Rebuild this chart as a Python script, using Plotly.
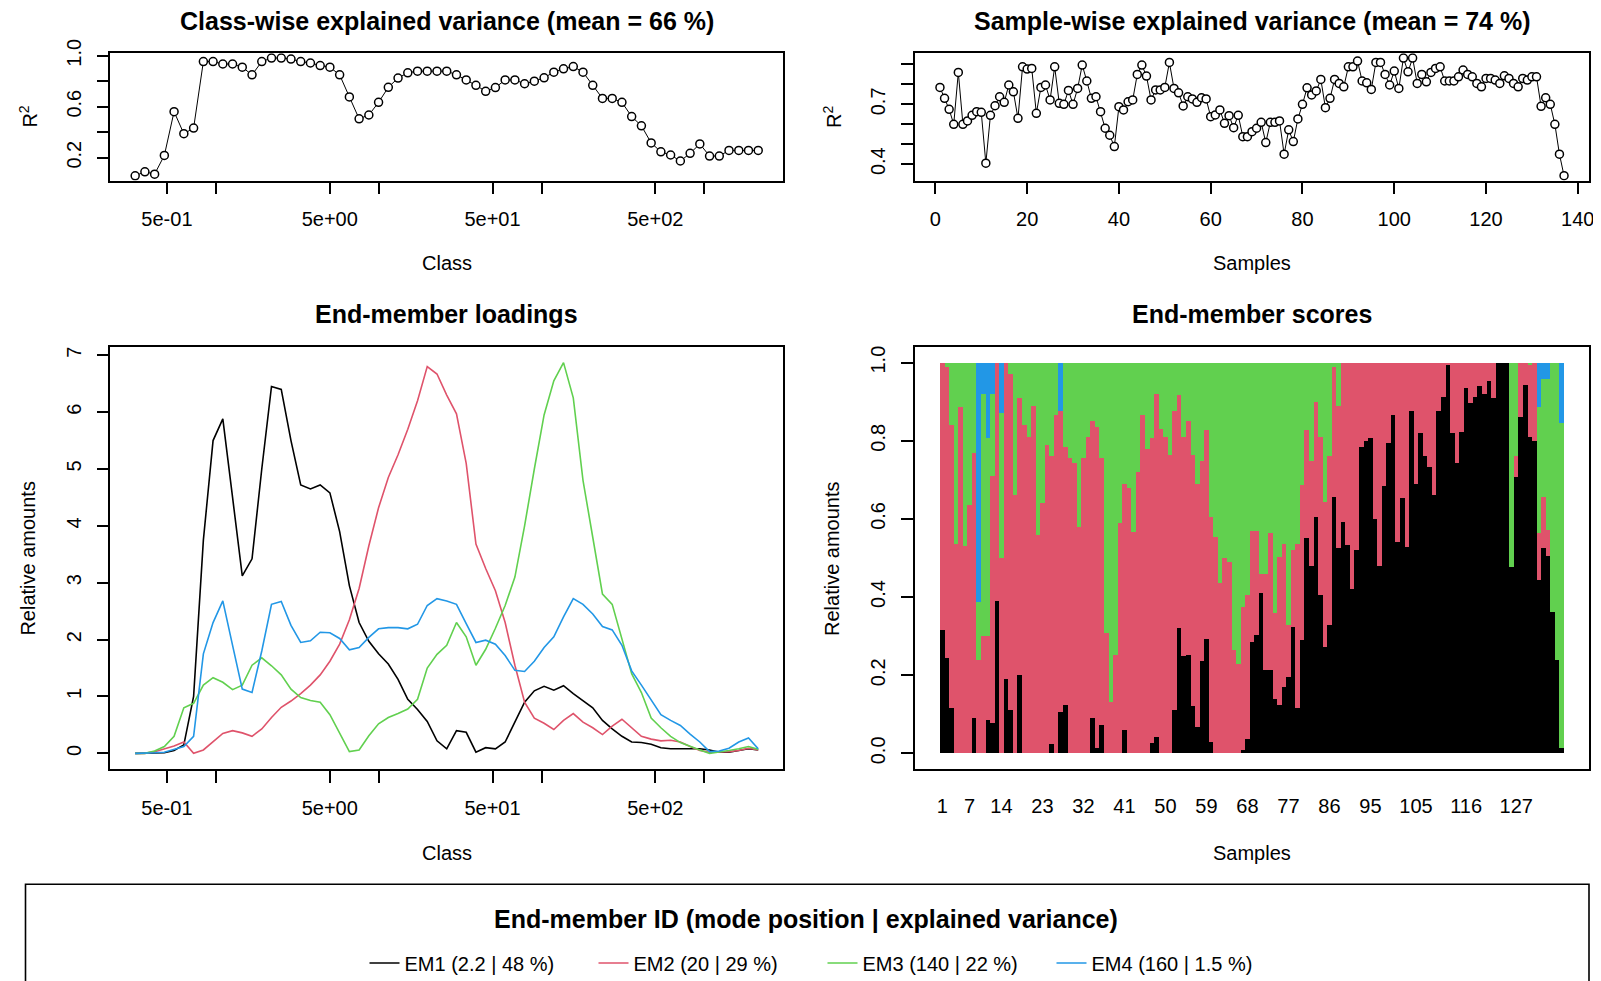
import plotly.graph_objects as go

# ---------------- data ----------------
classes = [0.319, 0.366, 0.420, 0.482, 0.553, 0.635, 0.729, 0.837, 0.960, 1.102,
           1.265, 1.451, 1.666, 1.912, 2.194, 2.518, 2.890, 3.317, 3.806, 4.368,
           5.012, 5.752, 6.601, 7.576, 8.695, 9.977, 11.45, 13.14, 15.08, 17.31,
           19.86, 22.80, 26.16, 30.03, 34.46, 39.55, 45.39, 52.09, 59.78, 68.61,
           78.70, 90.33, 103.7, 119.0, 136.5, 156.7, 179.8, 206.4, 236.8, 271.8,
           311.9, 357.9, 410.8, 471.5, 541.1, 620.9, 712.6, 817.8, 938.5, 1077,
           1236, 1418, 1628, 1868, 2144]

r2_class = [0.058, 0.089, 0.071, 0.218, 0.561, 0.388, 0.432, 0.954, 0.954, 0.935,
            0.935, 0.91, 0.85, 0.954, 0.982, 0.982, 0.974, 0.954, 0.943, 0.923,
            0.91, 0.85, 0.677, 0.505, 0.535, 0.634, 0.752, 0.825, 0.866, 0.879,
            0.879, 0.879, 0.879, 0.85, 0.81, 0.768, 0.721, 0.75, 0.81, 0.81,
            0.78, 0.80, 0.827, 0.871, 0.897, 0.915, 0.871, 0.768, 0.665, 0.665,
            0.634, 0.523, 0.45, 0.316, 0.246, 0.221, 0.174, 0.234, 0.308, 0.213,
            0.213, 0.257, 0.257, 0.257, 0.257]

samples = list(range(1, 138))

r2_sample = [0.785, 0.73, 0.675, 0.60, 0.86, 0.60, 0.617, 0.645, 0.663, 0.66,
             0.405, 0.645, 0.693, 0.738, 0.71, 0.797, 0.763, 0.63, 0.888, 0.877,
             0.88, 0.655, 0.785, 0.797, 0.722, 0.888, 0.705, 0.70, 0.77, 0.70,
             0.78, 0.897, 0.817, 0.73, 0.738, 0.663, 0.58, 0.545, 0.488, 0.688,
             0.672, 0.713, 0.722, 0.85, 0.897, 0.842, 0.722, 0.772, 0.772, 0.785,
             0.91, 0.78, 0.758, 0.692, 0.738, 0.727, 0.71, 0.733, 0.727, 0.638,
             0.647, 0.672, 0.605, 0.643, 0.583, 0.645, 0.538, 0.538, 0.563, 0.58,
             0.61, 0.508, 0.61, 0.61, 0.617, 0.45, 0.572, 0.513, 0.627, 0.70,
             0.783, 0.747, 0.767, 0.825, 0.683, 0.73, 0.825, 0.805, 0.788, 0.888,
             0.888, 0.917, 0.817, 0.808, 0.775, 0.91, 0.91, 0.85, 0.797, 0.867,
             0.78, 0.932, 0.863, 0.932, 0.805, 0.85, 0.813, 0.86, 0.88, 0.888,
             0.817, 0.817, 0.817, 0.838, 0.872, 0.85, 0.838, 0.805, 0.788, 0.83,
             0.83, 0.822, 0.805, 0.843, 0.83, 0.805, 0.788, 0.83, 0.822, 0.838,
             0.838, 0.69, 0.733, 0.70, 0.60, 0.45, 0.342]

em1_load = [0, 0, 0, 0.01, 0.05, 0.15, 1.0, 3.75, 5.5, 5.88,
            4.5, 3.12, 3.42, 5.0, 6.45, 6.40, 5.5, 4.72, 4.65, 4.72,
            4.58, 3.9, 2.95, 2.3, 1.97, 1.75, 1.57, 1.3, 0.95, 0.77,
            0.56, 0.22, 0.08, 0.40, 0.37, 0.02, 0.1, 0.08, 0.2, 0.55,
            0.9, 1.1, 1.18, 1.11, 1.19, 1.05, 0.92, 0.8, 0.58, 0.43,
            0.3, 0.2, 0.19, 0.16, 0.1, 0.08, 0.08, 0.08, 0.08, 0.06,
            0.02, 0.02, 0.05, 0.08, 0.06]
em2_load = [0, 0, 0.03, 0.08, 0.13, 0.2, 0.0, 0.06, 0.2, 0.35,
            0.4, 0.36, 0.3, 0.43, 0.63, 0.81, 0.92, 1.05, 1.2, 1.38,
            1.62, 1.92, 2.35, 2.9, 3.65, 4.32, 4.85, 5.25, 5.7, 6.2,
            6.8, 6.67, 6.3, 5.97, 5.1, 3.68, 3.25, 2.86, 2.3, 1.55,
            0.9, 0.62, 0.53, 0.42, 0.58, 0.7, 0.55, 0.45, 0.33, 0.48,
            0.6, 0.45, 0.3, 0.25, 0.22, 0.23, 0.2, 0.12, 0.05, 0.02,
            0.02, 0.03, 0.05, 0.09, 0.06]
em3_load = [0, 0, 0.04, 0.12, 0.3, 0.8, 0.88, 1.2, 1.33, 1.25,
            1.12, 1.2, 1.55, 1.68, 1.54, 1.38, 1.13, 0.98, 0.93, 0.9,
            0.68, 0.35, 0.03, 0.06, 0.31, 0.52, 0.63, 0.7, 0.78, 0.95,
            1.5, 1.74, 1.9, 2.3, 2.05, 1.55, 1.83, 2.2, 2.6, 3.1,
            4.0, 5.0, 5.95, 6.55, 6.87, 6.25, 4.8, 3.8, 2.8, 2.62,
            2.0, 1.4, 1.07, 0.62, 0.45, 0.3, 0.19, 0.12, 0.06, 0.0,
            0.02, 0.05, 0.08, 0.12, 0.07]
em4_load = [0, 0, 0.01, 0.02, 0.07, 0.12, 0.3, 1.75, 2.3, 2.68,
            1.9, 1.13, 1.07, 1.8, 2.62, 2.67, 2.25, 1.95, 1.98, 2.13,
            2.12, 2.02, 1.82, 1.86, 2.04, 2.19, 2.21, 2.21, 2.19, 2.27,
            2.6, 2.72, 2.68, 2.62, 2.28, 1.95, 1.99, 1.92, 1.72, 1.46,
            1.44, 1.62, 1.86, 2.05, 2.4, 2.72, 2.62, 2.45, 2.23, 2.17,
            1.9, 1.45, 1.2, 0.95, 0.68, 0.58, 0.49, 0.34, 0.2, 0.03,
            0.04, 0.09, 0.2, 0.27, 0.08]

score_em1 = [0.316, 0.243, 0.115, 0, 0, 0, 0, 0.09, 0, 0,
             0.085, 0.077, 0.39, 0, 0.19, 0.11, 0, 0.2, 0, 0,
             0, 0, 0, 0, 0.024, 0, 0.107, 0.124, 0, 0,
             0, 0, 0, 0.09, 0.013, 0.073, 0, 0, 0, 0,
             0.061, 0, 0, 0, 0, 0, 0.027, 0.043, 0, 0,
             0, 0.11, 0.32, 0.25, 0.253, 0.12, 0.067, 0.237, 0.292, 0.028,
             0, 0, 0, 0, 0, 0, 0.009, 0.036, 0.286, 0.303,
             0.41, 0.213, 0.213, 0.14, 0.124, 0.17, 0.196, 0.324, 0.115, 0.29,
             0.55, 0.48, 0.606, 0.405, 0.273, 0.328, 0.657, 0.525, 0.593, 0.533,
             0.42, 0.52, 0.783, 0.8, 0.806, 0.6, 0.48, 0.683, 0.794, 0.866,
             0.542, 0.653, 0.529, 0.876, 0.69, 0.82, 0.76, 0.734, 0.66, 0.875,
             0.913, 0.994, 0.82, 0.742, 0.823, 0.934, 0.896, 0.913, 0.94, 0.92,
             0.954, 0.909, 1.0, 1.0, 1.0, 0.478, 0.708, 0.862, 0.943, 0.81,
             0.8, 0.444, 0.525, 0.505, 0.363, 0.239, 0.013]
score_em2 = [0.684, 0.747, 0.725, 0.537, 0.887, 0.53, 0.635, 0.68, 0.239, 0.30,
             0.215, 0.633, 0.61, 0.50, 0.81, 0.86, 0.66, 0.71, 0.84, 0.81,
             0.89, 0.56, 0.64, 0.79, 0.736, 0.866, 0.768, 0.661, 0.755, 0.742,
             0.58, 0.755, 0.81, 0.76, 0.821, 0.682, 0.307, 0.132, 0.252, 0.589,
             0.629, 0.678, 0.567, 0.72, 0.866, 0.78, 0.779, 0.877, 0.83, 0.81,
             0.764, 0.765, 0.597, 0.56, 0.597, 0.644, 0.623, 0.51, 0.536, 0.578,
             0.555, 0.435, 0.5, 0.49, 0.265, 0.23, 0.366, 0.369, 0.284, 0.267,
             0.05, 0.247, 0.35, 0.218, 0.379, 0.367, 0.132, 0.196, 0.42, 0.397,
             0.278, 0.267, 0.294, 0.405, 0.371, 0.432, 0.333, 0.365, 0.407, 0.467,
             0.58, 0.48, 0.217, 0.2, 0.194, 0.4, 0.52, 0.317, 0.206, 0.134,
             0.458, 0.347, 0.471, 0.124, 0.31, 0.18, 0.24, 0.266, 0.34, 0.125,
             0.087, 0.006, 0.18, 0.258, 0.177, 0.066, 0.104, 0.087, 0.06, 0.08,
             0.046, 0.091, 0, 0, 0, 0, 0.052, 0.138, 0.057, 0.184,
             0.2, 0.119, 0.132, 0.067, 0, 0, 0]
score_em3 = [0, 0.01, 0.16, 0.463, 0.113, 0.47, 0.365, 0.23, 0.149, 0.62,
             0.506, 0.21, 0, 0.37, 0, 0.03, 0.34, 0.09, 0.16, 0.19,
             0.11, 0.44, 0.36, 0.21, 0.24, 0.134, 0, 0.215, 0.245, 0.258,
             0.42, 0.245, 0.19, 0.15, 0.166, 0.245, 0.693, 0.868, 0.748, 0.411,
             0.31, 0.322, 0.433, 0.28, 0.134, 0.22, 0.194, 0.08, 0.17, 0.19,
             0.236, 0.125, 0.083, 0.19, 0.15, 0.236, 0.31, 0.253, 0.172, 0.394,
             0.445, 0.565, 0.5, 0.51, 0.735, 0.77, 0.625, 0.595, 0.43, 0.43,
             0.54, 0.54, 0.437, 0.642, 0.497, 0.463, 0.672, 0.48, 0.465, 0.313,
             0.172, 0.253, 0.1, 0.19, 0.356, 0.24, 0.01, 0.11, 0, 0,
             0, 0, 0, 0, 0, 0, 0, 0, 0, 0,
             0, 0, 0, 0, 0, 0, 0, 0, 0, 0,
             0, 0, 0, 0, 0, 0, 0, 0, 0, 0,
             0, 0, 0, 0, 0, 0.522, 0.24, 0, 0, 0.006,
             0, 0.324, 0.3, 0.385, 0.637, 0.761, 0.832]
score_em4 = [0, 0, 0, 0, 0, 0, 0, 0, 0.612, 0.08,
             0.194, 0.08, 0, 0.13, 0, 0, 0, 0, 0, 0,
             0, 0, 0, 0, 0, 0, 0.125, 0, 0, 0,
             0, 0, 0, 0, 0, 0, 0, 0, 0, 0,
             0, 0, 0, 0, 0, 0, 0, 0, 0, 0,
             0, 0, 0, 0, 0, 0, 0, 0, 0, 0,
             0, 0, 0, 0, 0, 0, 0, 0, 0, 0,
             0, 0, 0, 0, 0, 0, 0, 0, 0, 0,
             0, 0, 0, 0, 0, 0, 0, 0, 0, 0,
             0, 0, 0, 0, 0, 0, 0, 0, 0, 0,
             0, 0, 0, 0, 0, 0, 0, 0, 0, 0,
             0, 0, 0, 0, 0, 0, 0, 0, 0, 0,
             0, 0, 0, 0, 0, 0, 0, 0, 0, 0,
             0, 0.113, 0.043, 0.043, 0, 0, 0.155]

em_names = ["EM1 (2.2 | 48 %)", "EM2 (20 | 29 %)", "EM3 (140 | 22 %)", "EM4 (160 | 1.5 %)"]
em_colors = ["#000000", "#DF536B", "#61D04F", "#2297E6"]

class_ticks = [0.5, 5, 50, 500]
class_ticktext = ["5e-01", "5e+00", "5e+01", "5e+02"]
class_minor = [1, 10, 100, 1000]
score_ticks = [1, 7, 14, 23, 32, 41, 50, 59, 68, 77, 86, 95, 105, 116, 127]

# ---------------- figure ----------------
OFF = 8                      # page body margin of the html page
FW, FH = 1601 - OFF, 981 - OFF
FONT = "Liberation Sans, Arial, sans-serif"


def fx(px):
    return (px - OFF) / FW


def fy(py):
    return 1 - (py - OFF) / FH


fig = go.Figure()

fig.add_trace(go.Scatter(x=classes, y=r2_class, mode="lines+markers",
                         line=dict(color="black", width=1.0),
                         marker=dict(symbol="circle", size=8, color="white",
                                     line=dict(color="black", width=1.5)),
                         showlegend=False, xaxis="x", yaxis="y"))
fig.add_trace(go.Scatter(x=samples, y=r2_sample, mode="lines+markers",
                         line=dict(color="black", width=1.0),
                         marker=dict(symbol="circle", size=8, color="white",
                                     line=dict(color="black", width=1.5)),
                         showlegend=False, xaxis="x2", yaxis="y2"))
for ys, nm, col in zip([em1_load, em2_load, em3_load, em4_load], em_names, em_colors):
    fig.add_trace(go.Scatter(x=classes, y=ys, mode="lines", name=nm,
                             line=dict(color=col, width=1.6),
                             showlegend=True, xaxis="x3", yaxis="y3"))
for ys, nm, col in zip([score_em1, score_em2, score_em3, score_em4], em_names, em_colors):
    fig.add_trace(go.Bar(x=samples, y=ys, name=nm, marker=dict(color=col, line=dict(width=0)),
                         showlegend=False, xaxis="x4", yaxis="y4"))

axis_common = dict(showline=True, linecolor="black", linewidth=1.6, mirror=True,
                   ticks="outside", ticklen=12, tickwidth=1.5, tickcolor="black",
                   showgrid=False, zeroline=False, automargin=False,
                   tickfont=dict(size=20, color="black", family=FONT),
                   ticklabelstandoff=8)


def minor_ticks(vals):
    return dict(tickmode="array", tickvals=vals, ticks="outside", ticklen=12,
                tickwidth=1.5, tickcolor="black", showgrid=False)


xL = [fx(110.3), fx(783.1)]
xR = [fx(915), fx(1589)]
yT = [fy(180.5), fy(53.3)]
yB = [fy(769), fy(347)]

fig.update_layout(
    width=FW, height=FH,
    margin=dict(l=0, r=0, t=0, b=0, pad=0, autoexpand=False),
    paper_bgcolor="white", plot_bgcolor="white",
    font=dict(family=FONT, size=20, color="black"),
    barmode="stack", bargap=0,
    xaxis=dict(axis_common, domain=xL, anchor="y", type="log",
               range=[-0.649, 3.484], tickvals=class_ticks, ticktext=class_ticktext,
               minor=minor_ticks(class_minor)),
    yaxis=dict(axis_common, domain=yT, anchor="x", range=[0.021, 1.019],
               tickvals=[0.2, 0.6, 1.0], ticktext=["0.2", "0.6", "1.0"], tickangle=-90,
               minor=minor_ticks([0.4, 0.8])),
    xaxis2=dict(axis_common, domain=xR, anchor="y2", range=[-4.44, 142.44],
                tickvals=[0, 20, 40, 60, 80, 100, 120, 140]),
    yaxis2=dict(axis_common, domain=yT, anchor="x2", range=[0.318, 0.956],
                tickvals=[0.4, 0.7], ticktext=["0.4", "0.7"], tickangle=-90,
                minor=minor_ticks([0.5, 0.6, 0.8, 0.9])),
    xaxis3=dict(axis_common, domain=xL, anchor="y3", type="log",
                range=[-0.649, 3.484], tickvals=class_ticks, ticktext=class_ticktext,
                minor=minor_ticks(class_minor)),
    yaxis3=dict(axis_common, domain=yB, anchor="x3", range=[-0.275, 7.145],
                tickvals=[0, 1, 2, 3, 4, 5, 6, 7], tickangle=-90),
    xaxis4=dict(axis_common, domain=xR, anchor="y4", range=[-4.98, 142.98],
                tickvals=score_ticks, ticks="", ticklabelstandoff=18),
    yaxis4=dict(axis_common, domain=yB, anchor="x4", range=[-0.04, 1.04],
                tickvals=[0, 0.2, 0.4, 0.6, 0.8, 1.0],
                ticktext=["0.0", "0.2", "0.4", "0.6", "0.8", "1.0"], tickangle=-90),
    legend=dict(orientation="h", x=fx(364.5), xanchor="left", y=fy(963), yanchor="middle",
                font=dict(size=20, family=FONT, color="black"),
                bgcolor="rgba(0,0,0,0)", entrywidth=184, entrywidthmode="pixels",
                traceorder="normal"),
)

title_font = dict(family=FONT, size=25, color="black")
label_font = dict(family=FONT, size=20, color="black")
annots = [
    ("<b>Class-wise explained variance (mean = 66 %)</b>", (110.3 + 783.1) / 2, 21.5, title_font, 0),
    ("<b>Sample-wise explained variance (mean = 74 %)</b>", (915 + 1589) / 2, 21.5, title_font, 0),
    ("<b>End-member loadings</b>", (110.3 + 783.1) / 2, 313.5, title_font, 0),
    ("<b>End-member scores</b>", (915 + 1589) / 2, 313.5, title_font, 0),
    ("Class", (110.3 + 783.1) / 2, 263.4, label_font, 0),
    ("Samples", (915 + 1589) / 2, 263.4, label_font, 0),
    ("Class", (110.3 + 783.1) / 2, 852.5, label_font, 0),
    ("Samples", (915 + 1589) / 2, 852.5, label_font, 0),
    ("R<sup>2</sup>", 27.6, 117, label_font, -90),
    ("R<sup>2</sup>", 832, 117, label_font, -90),
    ("Relative amounts", 27.6, 558, label_font, -90),
    ("Relative amounts", 832, 558, label_font, -90),
    ("<b>End-member ID (mode position | explained variance)</b>", 805.6, 919, title_font, 0),
]
for txt, x, y, f, ang in annots:
    fig.add_annotation(text=txt, x=fx(x), y=fy(y), xref="paper", yref="paper",
                       xanchor="center", yanchor="middle", showarrow=False,
                       font=f, textangle=ang, borderpad=0)

fig.add_shape(type="rect", xref="paper", yref="paper",
              x0=fx(25.5), x1=fx(1589), y0=fy(1000), y1=fy(884.2),
              line=dict(color="black", width=1.6), fillcolor="rgba(0,0,0,0)")

fig.write_html("out.html")
